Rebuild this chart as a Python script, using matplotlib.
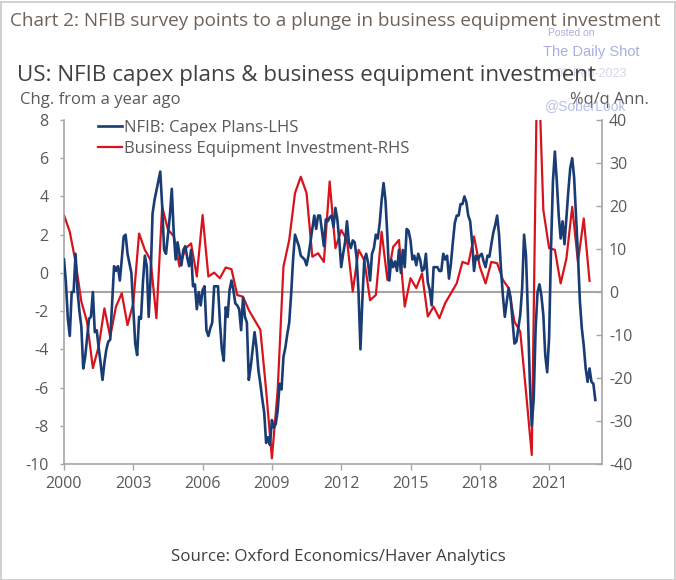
import numpy as np
import matplotlib
matplotlib.use("Agg")
import matplotlib.pyplot as plt
from matplotlib.patches import Rectangle

# ---------------- data ----------------
# NFIB capex plans, change from a year ago (monthly, Jan 2000 -> Jan 2023), LHS
nfib_start = 2000.0
nfib = [
    0.7, -0.5, -2.4, -3.3, -1.0, -1.0, 1.0, -0.9, -2.0, -2.8, -5.0, -4.4,
    -3.4, -2.4, -2.3, -1.0, -3.1, -3.0, -3.9, -4.7, -5.6, -4.7, -4.0, -3.6,
    -3.5, -1.6, 0.35, 0.1, 0.35, -0.4, 0.7, 1.9, 2.0, 1.0, 0.5, 0.0,
    -1.9, -3.7, -4.3, -2.3, -2.4, -0.5, 0.9, 0.35, -2.3, -0.2, 3.1, 3.8,
    4.3, 4.8, 5.3, 3.5, 1.2, 1.0, 2.0, 3.0, 4.4, 2.1, 0.7, 1.6,
    1.0, 0.4, 1.2, 1.4, 0.8, 0.35, 1.2, -0.7, -0.6, -1.9, -1.0, -1.7,
    -0.9, -0.7, -3.0, -3.3, -2.9, -2.6, -0.7, -0.7, -0.7, -2.6, -4.0, -4.6,
    -1.8, -2.3, -0.9, -0.4, -0.9, -1.6, -1.7, -1.9, -3.0, -1.3, -2.3, -2.6,
    -5.6, -4.9, -4.0, -3.1, -3.9, -5.1, -5.8, -6.6, -7.3, -8.9, -8.6, -9.0,
    -7.7, -8.1, -7.9, -7.2, -5.8, -6.1, -4.4, -3.9, -3.2, -2.6, -1.1, 0.7,
    2.0, 1.7, 1.4, 0.9, 0.8, 0.7, 0.4, 0.9, 1.6, 2.3, 3.0, 2.3,
    3.0, 3.0, 2.2, 1.4, 2.8, 2.7, 2.9, 3.0, 2.4, 3.4, 2.8, 1.7,
    0.3, 1.0, 1.6, 2.7, 1.6, 1.3, 1.7, 1.6, 0.8, -1.0, -4.0, -1.4,
    0.7, 1.0, 0.5, -0.4, 1.0, 1.3, 2.0, 1.8, 2.6, 3.8, 4.7, 3.8,
    1.9, -0.4, 0.7, 0.3, 0.6, 0.1, 1.2, 0.0, 1.2, 0.3, 2.3, 2.2,
    1.7, 0.7, 0.9, 0.4, 1.0, 0.7, 0.1, 0.2, 1.0, -0.5, -0.9, -1.7,
    0.3, 0.3, 0.3, 0.1, 0.1, 1.0, 0.7, 0.9, -0.3, 0.5, 1.6, 2.6,
    3.0, 3.0, 3.6, 3.6, 4.0, 3.7, 3.0, 2.7, 1.6, 0.1, 0.9, 0.7,
    0.9, 1.0, 0.6, 0.3, 0.9, 0.85, 1.5, 2.1, 2.5, 3.0, 2.0, 0.2,
    -1.2, -2.3, -1.5, -0.8, -1.3, -2.5, -3.7, -3.6, -2.9, -2.2, -0.8, 2.0,
    0.9, -2.2, -5.7, -8.0, -6.6, -2.9, -1.0, -0.6, -1.2, -2.2, -4.3, -5.2,
    -3.4, 1.3, 4.8, 6.35, 4.8, 3.0, 1.8, 2.7, 1.5, 2.9, 4.3, 5.5,
    6.0, 5.0, 3.0, 0.9, -1.5, -2.9, -3.8, -5.0, -5.7, -5.0, -5.7, -5.8,
    -6.65,
]

# Business equipment investment, %q/q annualised (quarterly, 1999Q4 -> 2022Q4), RHS
bei_start = 1999.75
bei = [
    5.0,
    17.9, 14.0, 7.0, -2.2,
    -7.0, -17.7, -12.7, -3.8,
    -10.4, -3.4, -0.3, -7.7,
    -2.6, 13.6, 9.8, 7.4,
    -6.1, 19.8, 14.5, 13.0,
    5.9, 10.0, 11.3, 3.6,
    17.9, 3.6, 4.5, 3.2,
    5.7, 5.3, -0.7, -1.1,
    -4.2, -6.5, -8.8, -22.8,
    -38.7, -22.8, 5.9, 12.1,
    23.0, 26.8, 23.0, 8.2,
    9.0, 7.0, 25.7, 10.2,
    14.4, 12.1, 0.1, 9.8,
    7.4, -1.9, -0.7, 14.0,
    2.8, 10.5, 12.1, -3.4,
    3.2, 0.9, 4.3, -5.7,
    -3.4, -6.1, -2.6, -0.3,
    2.0, 7.0, 6.5, 12.9,
    5.9, 2.0, 7.0, 6.7,
    2.8, 0.9, -6.9, -9.2,
    -23.2, -37.9, 60.0, 19.1,
    10.2, 9.8, 2.0, 7.8,
    19.8, 7.0, 17.1, 2.6,
]

x_ticks = [2000, 2003, 2006, 2009, 2012, 2015, 2018, 2021]
left_ticks = [8, 6, 4, 2, 0, -2, -4, -6, -8, -10]
right_ticks = [40, 30, 20, 10, 0, -10, -20, -30, -40]

title = "Chart 2: NFIB survey points to a plunge in business equipment investment"
subtitle = "US: NFIB capex plans & business equipment investment"
left_unit = "Chg. from a year ago"
right_unit = "%q/q Ann."
label_nfib = "NFIB: Capex Plans-LHS"
label_bei = "Business Equipment Investment-RHS"
source = "Source: Oxford Economics/Haver Analytics"

# ---------------- style ----------------
plt.rcParams['font.family'] = ['Open Sans', 'DejaVu Sans']
BLUE = "#1a3c74"
RED = "#d7141c"
GRAY_TXT = "#595959"
SPINE = "#a6a6a6"

W, H = 676, 580
fig = plt.figure(figsize=(W / 100, H / 100), dpi=100)
fig.patch.set_facecolor("white")

# outer frame
fig.patches.append(Rectangle((0.5 / W, 0.5 / H), 1 - 2 / W, 1 - 2 / H, transform=fig.transFigure,
                             fill=False, edgecolor="#c8c8c8", linewidth=1.2))

ax = fig.add_axes([64 / W, 1 - 464 / H, (602 - 64) / W, (464 - 120) / H])
ax2 = ax.twinx()

t_nfib = nfib_start + np.arange(len(nfib)) / 12.0
t_bei = bei_start + np.arange(len(bei)) * 0.25

ax2.axhline(0, color=SPINE, lw=1.5, zorder=1)
l1, = ax.plot(t_nfib, nfib, color=BLUE, lw=1.9, label=label_nfib, zorder=3)
l2, = ax2.plot(t_bei, bei, color=RED, lw=1.6, label=label_bei, zorder=2)

ax.set_zorder(ax2.get_zorder() + 1)
ax.patch.set_visible(False)

ax.set_xlim(2000, 2023.29)
ax.set_ylim(-10, 8)
ax2.set_ylim(-40, 40)
ax.set_xticks(x_ticks)
ax.set_xticklabels([str(v) for v in x_ticks])
ax.set_yticks(left_ticks)
ax.set_yticklabels([str(v) for v in left_ticks])
ax2.set_yticks(right_ticks)
ax2.set_yticklabels([str(v) for v in right_ticks])

for a in (ax, ax2):
    a.spines['top'].set_visible(False)
    for s in ('left', 'right', 'bottom'):
        a.spines[s].set_color(SPINE)
        a.spines[s].set_linewidth(1.2)
ax.spines['right'].set_visible(False)
ax2.spines['left'].set_visible(False)
ax2.spines['bottom'].set_visible(False)

ax.tick_params(axis='y', direction='out', length=3, width=1, color=SPINE, pad=8,
               labelsize=11.5, labelcolor=GRAY_TXT)
ax.tick_params(axis='x', direction='out', length=4, width=1, color=SPINE, pad=5,
               labelsize=11.5, labelcolor=GRAY_TXT)
ax2.tick_params(axis='y', direction='in', length=4, width=1, color=SPINE, pad=5,
                labelsize=11.5, labelcolor=GRAY_TXT)

leg = ax.legend(handles=[l1, l2], loc='upper left', bbox_to_anchor=(0.063, 1.0),
                frameon=False, fontsize=12, handlelength=1.45, handletextpad=0.12,
                labelspacing=0.3, borderaxespad=0, borderpad=0)
for txt in leg.get_texts():
    txt.set_color(GRAY_TXT)

# texts
fig.text(10 / W, 1 - 21 / H, title, fontsize=13.6, color="#6e6259", va='center', ha='left')
fig.text(17 / W, 1 - 75 / H, subtitle, fontsize=16.1, color="#404040", va='center', ha='left')
fig.text(20 / W, 1 - 100 / H, left_unit, fontsize=12, color=GRAY_TXT, va='center', ha='left')
fig.text(649 / W, 1 - 100 / H, right_unit, fontsize=11.8, color=GRAY_TXT, va='center', ha='right')
fig.text(338 / W, 1 - 557 / H, source, fontsize=12.2, color="#404040", va='center', ha='center')

# watermark
WM = "#a9aee0"
fig.text(571 / W, 1 - 33 / H, "Posted on", fontsize=7.5, color=WM, va='center', ha='center',
         family=['Liberation Sans', 'DejaVu Sans'])
fig.text(591 / W, 1 - 52 / H, "The Daily Shot", fontsize=10.5, color=WM, va='center', ha='center',
         family=['Liberation Sans', 'DejaVu Sans'])
fig.text(591 / W, 1 - 74 / H, "01-Feb-2023", fontsize=9, color=WM, va='center', ha='center',
         family=['Liberation Sans', 'DejaVu Sans'], alpha=0.5, zorder=-1)
fig.text(586 / W, 1 - 106 / H, "@SoberLook", fontsize=10, color=WM, va='center', ha='center',
         family=['Liberation Sans', 'DejaVu Sans'], alpha=0.8)

fig.savefig("out.png", dpi=100, facecolor="white")
